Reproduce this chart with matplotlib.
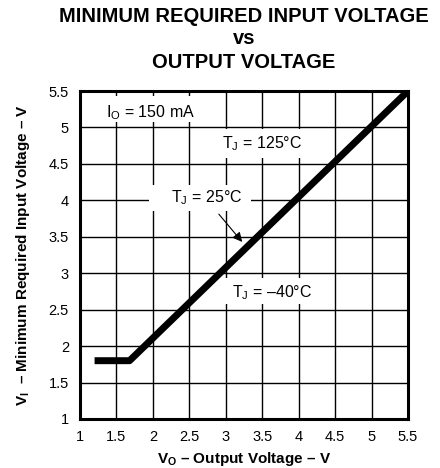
import matplotlib
matplotlib.use('Agg')
import matplotlib.pyplot as plt
from matplotlib.patches import Rectangle

plt.rcParams['font.family'] = ['Liberation Sans', 'DejaVu Sans']
plt.rcParams['mathtext.fontset'] = 'custom'
plt.rcParams['mathtext.rm'] = 'Liberation Sans'
plt.rcParams['mathtext.it'] = 'Liberation Sans'
plt.rcParams['mathtext.bf'] = 'Liberation Sans:bold'

# curve
vo = [1.2, 1.68, 5.5]
vi = [1.8, 1.8, 5.5]
ticks = [1, 1.5, 2, 2.5, 3, 3.5, 4, 4.5, 5, 5.5]
tick_labels = ['1', '1.5', '2', '2.5', '3', '3.5', '4', '4.5', '5', '5.5']

fig = plt.figure(figsize=(4.4, 4.68), dpi=100)
ax = fig.add_axes([80 / 440, 1 - 419 / 468, 328 / 440, 328 / 468])

ax.plot(vo, vi, color='black', linewidth=5, solid_capstyle='butt', zorder=3)

ax.set_xlim(1, 5.5)
ax.set_ylim(1, 5.5)
ax.set_xticks(ticks)
ax.set_yticks(ticks)
ax.set_xticklabels(tick_labels)
ax.set_yticklabels(tick_labels)
ax.tick_params(length=0, labelsize=10.5, pad=8)
ax.grid(True, color='black', linewidth=1)
for s in ax.spines.values():
    s.set_linewidth(2.2)
    s.set_zorder(6)

# white label boxes that break the grid
for x0, y0, w, h in [(1.0, 5.07, 1.95, 0.36), (2.58, 4.58, 1.75, 0.4),
                     (1.95, 3.85, 1.4, 0.36), (2.9, 2.58, 1.5, 0.36)]:
    ax.add_patch(Rectangle((x0, y0), w, h, facecolor='white', edgecolor='none', zorder=2.5))

ax.text(1.97, 5.2, r'I$_\mathrm{O}$ = 150 mA', fontsize=11.5, va='center', ha='center', zorder=4)
ax.text(3.5, 4.78, r'T$_\mathrm{J}$ = 125°C', fontsize=11.5, va='center', ha='center', zorder=4)
ax.text(2.74, 4.03, r'T$_\mathrm{J}$ = 25°C', fontsize=11.5, va='center', ha='center', zorder=4)
ax.text(3.63, 2.74, r'T$_\mathrm{J}$ = –40°C', fontsize=11.5, va='center', ha='center', zorder=4)
ax.annotate('', xy=(3.25, 3.4), xytext=(2.88, 3.84),
            arrowprops=dict(arrowstyle='-|>', color='black', lw=0.8, mutation_scale=14), zorder=4)

fig.text(244 / 440, 1 - 459 / 468, r'V$_\mathbf{O}$ – Output Voltage – V', ha='center', va='center',
         fontsize=11, fontweight='bold')
ax.set_ylabel(r'V$_\mathbf{I}$  – Minimum Required Input Voltage – V', fontsize=11, fontweight='bold', labelpad=12)

fig.text(244 / 440, 1 - 17 / 468, 'MINIMUM REQUIRED INPUT VOLTAGE', ha='center', va='center',
         fontsize=14.5, fontweight='bold')
fig.text(244 / 440, 1 - 39 / 468, 'vs', ha='center', va='center', fontsize=14.5, fontweight='bold')
fig.text(244 / 440, 1 - 62 / 468, 'OUTPUT VOLTAGE', ha='center', va='center', fontsize=14.5, fontweight='bold')

fig.savefig('out.png', dpi=100)
